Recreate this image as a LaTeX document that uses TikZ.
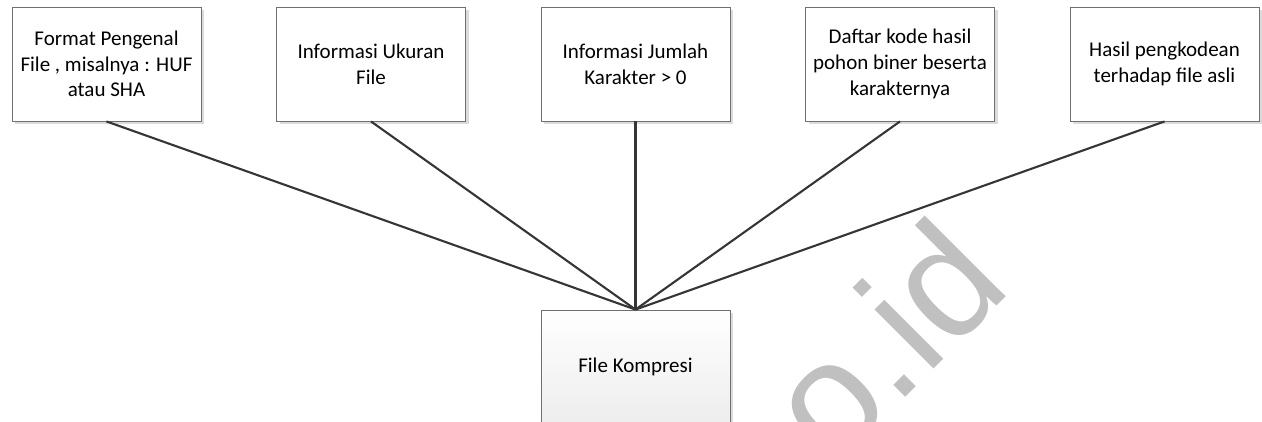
\documentclass[tikz,border=0pt]{standalone}
\usepackage{fontspec}
\setmainfont{Carlito}
\newfontfamily\markfont{Liberation Sans}
\usetikzlibrary{shadows}

\definecolor{boxline}{HTML}{707070}
\definecolor{wireline}{HTML}{353535}
\definecolor{markgray}{HTML}{C0C0C0}

\begin{document}
\begin{tikzpicture}[
  x=1pt, y=1pt,
  info box/.style  = {draw=boxline, line width=0.9pt, fill=white,
                      minimum width=189pt, minimum height=114pt,
                      align=center, inner sep=0pt,
                      font=\fontsize{21}{25.6}\selectfont,
                      drop shadow={shadow xshift=3pt, shadow yshift=-3pt,
                                   fill=black!14, opacity=1}},
  result box/.style = {info box, top color=white, middle color=white,
                       bottom color=black!7},
  wire/.style      = {draw=wireline, line width=2.1pt},
  watermark/.style = {text=markgray, font=\markfont\fontsize{158}{158}\selectfont,
                      inner sep=0pt},
]

% ── Canvas ─────────────────────────────────────────────────────────────────
\useasboundingbox (0,0) rectangle (1262,421);
\clip (0,0) rectangle (1262,421);

% box rows (y measured from the bottom edge)
\def\topY{357}
\def\botY{54}

% ── Watermark ──────────────────────────────────────────────────────────────
\node[watermark, rotate=45, anchor=base east] (mark) at (1014,132) {o.id};

% ── Header fields ──────────────────────────────────────────────────────────
\node[info box] (fmt)  at (106.5,\topY) {Format Pengenal\\File , misalnya : HUF\\atau SHA};
\node[info box] (size) at (371,\topY)   {Informasi Ukuran\\File};
\node[info box] (cnt)  at (635.5,\topY) {Informasi Jumlah\\Karakter > 0};
\node[info box] (code) at (900,\topY)   {Daftar kode hasil\\pohon biner beserta\\karakternya};
\node[info box] (data) at (1164.5,\topY) {Hasil pengkodean\\terhadap file asli};

% ── Compressed file ────────────────────────────────────────────────────────
\node[result box] (out) at (635.5,\botY) {File Kompresi};

% ── Connectors ─────────────────────────────────────────────────────────────
\draw[wire] (fmt.south)  -- (out.north);
\draw[wire] (size.south) -- (out.north);
\draw[wire] (cnt.south)  -- (out.north);
\draw[wire] (code.south) -- (out.north);
\draw[wire] (data.south) -- (out.north);

\end{tikzpicture}
\end{document}
